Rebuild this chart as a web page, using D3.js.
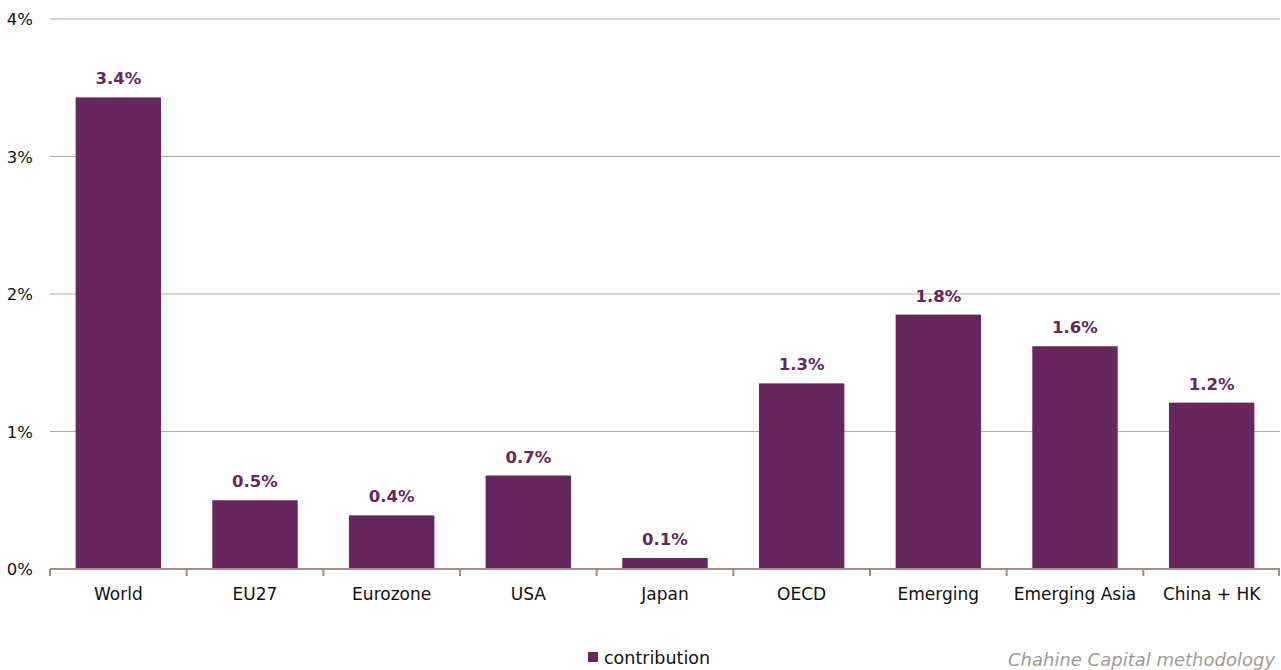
<!DOCTYPE html>
<html><head><meta charset="utf-8">
<script src="https://cdn.jsdelivr.net/npm/d3@7"></script>
<style>
html,body{margin:0;padding:0;background:#fff;overflow:hidden}
text{font-family:"DejaVu Sans",sans-serif}
</style></head>
<body><svg id="c" width="1281" height="670"></svg>
<script>
const categories = ["World","EU27","Eurozone","USA","Japan","OECD","Emerging","Emerging Asia","China + HK"];
const contribution = [3.43,0.50,0.39,0.68,0.08,1.35,1.85,1.62,1.21];
const valueLabels = ["3.4%","0.5%","0.4%","0.7%","0.1%","1.3%","1.8%","1.6%","1.2%"];
const yTicks = [0,1,2,3,4];
const seriesName = "contribution";
const footnote = "Chahine Capital methodology";

const svg = d3.select("#c");
const m = {l:50, r:1280, t:19, b:569};
const x = d3.scaleBand().domain(categories).range([m.l, m.r]).paddingInner(0.375).paddingOuter(0.1875);
const xb = d3.scaleBand().domain(categories).range([m.l, m.r]);
const y = d3.scaleLinear().domain([0,4]).range([m.b, m.t]);
const purple = "#68265f";

// gridlines
svg.append("g").selectAll("line").data(yTicks.filter(d=>d>0)).join("line")
  .attr("x1", m.l).attr("x2", m.r).attr("y1", d=>y(d)).attr("y2", d=>y(d))
  .attr("stroke", "#b8aaa0").attr("stroke-width", 1.2);

// y labels
svg.append("g").selectAll("text").data(yTicks).join("text")
  .attr("x", 33).attr("y", d=>y(d)+6).attr("text-anchor","end")
  .attr("font-size", 16.5).attr("fill","#111").text(d=>d+"%");

// bars
svg.append("g").selectAll("rect").data(categories).join("rect")
  .attr("x", d=>x(d)).attr("width", x.bandwidth())
  .attr("y", (d,i)=>y(contribution[i])).attr("height", (d,i)=>y(0)-y(contribution[i]))
  .attr("fill", purple);

// value labels
svg.append("g").selectAll("text").data(categories).join("text")
  .attr("x", d=>x(d)+x.bandwidth()/2).attr("y", (d,i)=>y(contribution[i])-13)
  .attr("text-anchor","middle").attr("font-size",16.5).attr("font-weight","bold")
  .attr("fill", purple).text((d,i)=>valueLabels[i]);

// x axis
const ax = svg.append("g").attr("transform", `translate(0,${y(0)})`);
ax.append("line").attr("x1", m.l).attr("x2", m.r).attr("stroke","#a08e82").attr("stroke-width",2);
const tickPos = categories.map(c=>xb(c)).concat([m.r]);
ax.selectAll("line.t").data(tickPos).join("line").attr("class","t")
  .attr("x1", d=>Math.min(d, m.r-1)).attr("x2", d=>Math.min(d, m.r-1)).attr("y1",0).attr("y2",7)
  .attr("stroke","#a08e82").attr("stroke-width",2);
ax.selectAll("text").data(categories).join("text")
  .attr("x", d=>xb(d)+xb.bandwidth()/2).attr("y", 31)
  .attr("text-anchor","middle").attr("font-size",17).attr("fill","#111").text(d=>d);

// legend
svg.append("rect").attr("x",588).attr("y",652).attr("width",10).attr("height",10).attr("fill",purple);
svg.append("text").attr("x",604).attr("y",664).attr("font-size",17.5).attr("fill","#111").text(seriesName);

// footnote
svg.append("text").attr("x",1008).attr("y",666).attr("font-size",18).attr("font-style","italic")
  .attr("fill","#a49a92").text(footnote);
</script></body></html>
